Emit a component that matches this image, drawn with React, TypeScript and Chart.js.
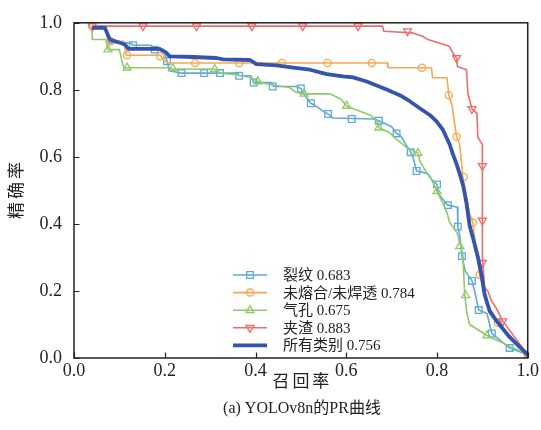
import React, { useEffect, useRef } from "react";
import { Chart, registerables } from "chart.js";

Chart.register(...registerables);

// ---------- data ----------
const xTicks = [0, 0.2, 0.4, 0.6, 0.8, 1.0];
const yTicks = [0, 0.2, 0.4, 0.6, 0.8, 1.0];

const classNames = ["裂纹", "未熔合/未焊透", "气孔", "夹渣", "所有类别"];
const classAP = ["0.683", "0.784", "0.675", "0.883", "0.756"];

// 裂纹 (crack)
const crackR = [0.04, 0.07, 0.075, 0.125, 0.13, 0.17, 0.175, 0.198, 0.205, 0.21, 0.235, 0.36, 0.364, 0.39, 0.396, 0.435, 0.44, 0.49, 0.5, 0.505, 0.522, 0.535, 0.55, 0.56, 0.57, 0.66, 0.672, 0.7, 0.711, 0.722, 0.73, 0.742, 0.747, 0.755, 0.78, 0.79, 0.8, 0.803, 0.824, 0.845, 0.846, 0.85, 0.855, 0.862, 0.877, 0.883, 0.892, 0.91, 0.921, 0.96, 1.0];
const crackP = [0.99, 0.99, 0.94, 0.94, 0.933, 0.933, 0.92, 0.92, 0.886, 0.857, 0.85, 0.85, 0.842, 0.842, 0.822, 0.822, 0.81, 0.81, 0.804, 0.79, 0.76, 0.75, 0.735, 0.728, 0.716, 0.713, 0.708, 0.69, 0.67, 0.66, 0.64, 0.614, 0.6, 0.558, 0.55, 0.53, 0.518, 0.49, 0.456, 0.45, 0.392, 0.365, 0.304, 0.26, 0.23, 0.2, 0.143, 0.133, 0.073, 0.03, 0.01];
const crackMarkR = [0.13, 0.178, 0.205, 0.237, 0.287, 0.322, 0.364, 0.396, 0.438, 0.5, 0.522, 0.56, 0.612, 0.672, 0.711, 0.742, 0.755, 0.8, 0.824, 0.846, 0.855, 0.877, 0.892, 0.921, 0.96, 1.0];
const crackMarkP = [0.933, 0.92, 0.886, 0.85, 0.85, 0.85, 0.842, 0.822, 0.81, 0.804, 0.76, 0.728, 0.713, 0.708, 0.67, 0.614, 0.558, 0.518, 0.456, 0.392, 0.304, 0.23, 0.143, 0.073, 0.03, 0.01];

// 未熔合/未焊透 (lack of fusion / penetration)
const lackR = [0.04, 0.07, 0.075, 0.11, 0.115, 0.19, 0.2, 0.21, 0.69, 0.692, 0.788, 0.79, 0.822, 0.826, 0.833, 0.843, 0.85, 0.857, 0.865, 0.872, 0.879, 0.885, 0.894, 0.905, 0.915, 0.925, 0.934, 1.0];
const lackP = [0.99, 0.99, 0.945, 0.945, 0.903, 0.903, 0.886, 0.88, 0.88, 0.866, 0.866, 0.836, 0.836, 0.784, 0.755, 0.66, 0.637, 0.54, 0.48, 0.43, 0.404, 0.33, 0.248, 0.2, 0.15, 0.13, 0.105, 0.01];
const lackMarkR = [0.04, 0.081, 0.117, 0.19, 0.267, 0.364, 0.458, 0.559, 0.656, 0.767, 0.826, 0.843, 0.859, 0.879, 0.894, 0.934, 1.0];
const lackMarkP = [0.99, 0.945, 0.903, 0.9, 0.88, 0.88, 0.88, 0.88, 0.88, 0.866, 0.784, 0.66, 0.54, 0.404, 0.248, 0.105, 0.01];

// 气孔 (pore)
const poreR = [0.04, 0.04, 0.07, 0.075, 0.1, 0.105, 0.11, 0.21, 0.215, 0.31, 0.32, 0.36, 0.39, 0.405, 0.43, 0.475, 0.49, 0.507, 0.564, 0.58, 0.59, 0.601, 0.623, 0.652, 0.667, 0.672, 0.696, 0.711, 0.733, 0.758, 0.762, 0.778, 0.789, 0.8, 0.813, 0.822, 0.828, 0.844, 0.85, 0.857, 0.861, 0.866, 0.872, 0.91, 1.0];
const poreP = [0.99, 0.95, 0.95, 0.92, 0.92, 0.89, 0.866, 0.866, 0.862, 0.862, 0.85, 0.845, 0.836, 0.825, 0.816, 0.807, 0.792, 0.788, 0.788, 0.778, 0.77, 0.752, 0.74, 0.725, 0.71, 0.687, 0.672, 0.652, 0.628, 0.611, 0.588, 0.55, 0.53, 0.497, 0.462, 0.433, 0.404, 0.374, 0.345, 0.307, 0.19, 0.132, 0.1, 0.067, 0.01];
const poreMarkR = [0.075, 0.117, 0.218, 0.31, 0.405, 0.507, 0.601, 0.672, 0.758, 0.8, 0.85, 0.863, 0.91];
const poreMarkP = [0.92, 0.866, 0.864, 0.862, 0.825, 0.788, 0.752, 0.687, 0.611, 0.497, 0.333, 0.187, 0.067];

// 夹渣 (slag)
const slagR = [0.04, 0.68, 0.683, 0.745, 0.768, 0.78, 0.805, 0.827, 0.835, 0.843, 0.845, 0.865, 0.868, 0.877, 0.888, 0.89, 0.9, 0.9, 0.905, 0.912, 0.92, 0.93, 0.945, 1.0];
const slagP = [0.99, 0.99, 0.975, 0.97, 0.96, 0.95, 0.94, 0.93, 0.91, 0.895, 0.87, 0.86, 0.79, 0.743, 0.73, 0.658, 0.637, 0.3, 0.21, 0.2, 0.17, 0.15, 0.11, 0.01];
const slagMarkR = [0.04, 0.152, 0.27, 0.392, 0.504, 0.626, 0.735, 0.843, 0.877, 0.9, 0.9, 0.9, 0.945, 1.0];
const slagMarkP = [0.99, 0.99, 0.99, 0.99, 0.99, 0.99, 0.975, 0.895, 0.743, 0.573, 0.41, 0.284, 0.11, 0.01];

// 所有类别 (all classes)
const allR = [0.04, 0.068, 0.079, 0.098, 0.112, 0.12, 0.189, 0.204, 0.211, 0.263, 0.314, 0.329, 0.388, 0.402, 0.446, 0.483, 0.52, 0.557, 0.593, 0.615, 0.645, 0.667, 0.689, 0.718, 0.74, 0.762, 0.784, 0.799, 0.813, 0.821, 0.828, 0.835, 0.843, 0.85, 0.858, 0.865, 0.872, 0.88, 0.891, 0.898, 0.905, 0.916, 0.931, 0.957, 0.982, 1.0];
const allP = [0.985, 0.985, 0.95, 0.942, 0.935, 0.922, 0.922, 0.91, 0.9, 0.898, 0.895, 0.891, 0.889, 0.877, 0.873, 0.866, 0.86, 0.847, 0.84, 0.837, 0.825, 0.813, 0.801, 0.784, 0.766, 0.745, 0.725, 0.706, 0.681, 0.657, 0.637, 0.608, 0.579, 0.55, 0.512, 0.462, 0.394, 0.355, 0.296, 0.248, 0.189, 0.14, 0.111, 0.067, 0.033, 0.01];

// ---------- styles ----------
const colors = ["#5ea9da", "#f8a64f", "#8fc96b", "#ed6c6c", "#3454ad"];
const markerKinds = ["square", "circle", "triUp", "triDown", "none"];
const SERIF = "'Liberation Serif', 'Times New Roman', 'Noto Sans CJK SC', serif";

Chart.defaults.font.family = SERIF;

const zip = (r: number[], p: number[]) => r.map((v, i) => ({ x: v, y: p[i] }));

function drawMarker(ctx: CanvasRenderingContext2D, kind: string, x: number, y: number) {
  ctx.beginPath();
  if (kind === "square") {
    ctx.rect(x - 3.3, y - 3.3, 6.6, 6.6);
  } else if (kind === "circle") {
    ctx.arc(x, y, 3.6, 0, Math.PI * 2);
  } else if (kind === "triUp") {
    const r = 4.6;
    ctx.moveTo(x, y - r);
    ctx.lineTo(x + r * 0.866, y + r * 0.5);
    ctx.lineTo(x - r * 0.866, y + r * 0.5);
    ctx.closePath();
  } else if (kind === "triDown") {
    const r = 4.6;
    ctx.moveTo(x, y + r);
    ctx.lineTo(x + r * 0.866, y - r * 0.5);
    ctx.lineTo(x - r * 0.866, y - r * 0.5);
    ctx.closePath();
  }
  ctx.stroke();
}

function spacedText(ctx: CanvasRenderingContext2D, text: string, cx: number, cy: number, gap: number) {
  const chars = Array.from(text);
  const widths = chars.map((c) => ctx.measureText(c).width);
  const total = widths.reduce((a, b) => a + b, 0) + gap * (chars.length - 1);
  let x = cx - total / 2;
  ctx.textAlign = "left";
  chars.forEach((c, i) => {
    ctx.fillText(c, x, cy);
    x += widths[i] + gap;
  });
}

const decorPlugin = {
  id: "decor",
  afterDraw(chart: any) {
    const ctx: CanvasRenderingContext2D = chart.ctx;
    const { left, right, top, bottom } = chart.chartArea;
    const xs = chart.scales.x;
    const ys = chart.scales.y;
    ctx.save();

    // inward ticks
    ctx.strokeStyle = "#222";
    ctx.lineWidth = 1.2;
    ctx.beginPath();
    xTicks.forEach((v) => {
      const px = Math.round(xs.getPixelForValue(v)) + 0.5;
      ctx.moveTo(px, bottom);
      ctx.lineTo(px, bottom - 5.5);
    });
    yTicks.forEach((v) => {
      const py = Math.round(ys.getPixelForValue(v)) + 0.5;
      ctx.moveTo(left, py);
      ctx.lineTo(left + 5.5, py);
    });
    ctx.stroke();

    // frame
    ctx.lineWidth = 1.5;
    ctx.strokeStyle = "#222";
    ctx.strokeRect(left, top, right - left, bottom - top);

    // axis titles
    ctx.fillStyle = "#222";
    ctx.textBaseline = "middle";
    ctx.font = `17px ${SERIF}`;
    spacedText(ctx, "召回率", (left + right) / 2, 383, 3);
    ctx.save();
    ctx.translate(18, (top + bottom) / 2);
    ctx.rotate(-Math.PI / 2);
    spacedText(ctx, "精确率", 0, 0, 3);
    ctx.restore();

    // caption
    ctx.font = `16px ${SERIF}`;
    ctx.textAlign = "center";
    ctx.fillText("(a) YOLOv8n的PR曲线", 302, 409);

    // legend
    ctx.font = `15px ${SERIF}`;
    ctx.textAlign = "left";
    classNames.forEach((name, i) => {
      const y = 275 + i * 17.6;
      ctx.strokeStyle = colors[i];
      ctx.lineWidth = i === 4 ? 3.8 : 1.6;
      ctx.beginPath();
      ctx.moveTo(233, y);
      ctx.lineTo(267, y);
      ctx.stroke();
      ctx.lineWidth = 1.3;
      drawMarker(ctx, markerKinds[i], 250, y);
      ctx.fillStyle = "#222";
      ctx.fillText(`${name} ${classAP[i]}`, 283, y + 1);
    });

    ctx.restore();
  },
};

export default function App() {
  const ref = useRef<HTMLCanvasElement | null>(null);

  useEffect(() => {
    if (!ref.current) return;
    const lineDs = (data: any[], color: string, width: number) => ({
      type: "line" as const,
      data,
      borderColor: color,
      backgroundColor: color,
      borderWidth: width,
      borderJoinStyle: "round" as const,
      pointRadius: 0,
      tension: 0,
      fill: false,
    });
    const markDs = (data: any[], color: string, style: string, radius: number, rotation = 0) => ({
      type: "line" as const,
      data,
      showLine: false,
      borderColor: color,
      backgroundColor: "rgba(0,0,0,0)",
      pointStyle: style,
      pointRadius: radius,
      pointRotation: rotation,
      pointBorderWidth: 1.3,
      pointBorderColor: color,
      pointBackgroundColor: "rgba(0,0,0,0)",
    });

    const chart = new Chart(ref.current, {
      type: "line",
      data: {
        datasets: [
          lineDs(zip(allR, allP), colors[4], 3.8),
          markDs(zip(slagMarkR, slagMarkP), colors[3], "triangle", 4.6, 180),
          lineDs(zip(slagR, slagP), colors[3], 1.6),
          markDs(zip(lackMarkR, lackMarkP), colors[1], "circle", 3.6),
          lineDs(zip(lackR, lackP), colors[1], 1.6),
          markDs(zip(poreMarkR, poreMarkP), colors[2], "triangle", 4.6),
          lineDs(zip(poreR, poreP), colors[2], 1.6),
          markDs(zip(crackMarkR, crackMarkP), colors[0], "rect", 4.7),
          lineDs(zip(crackR, crackP), colors[0], 1.6),
        ] as any,
      },
      options: {
        responsive: false,
        animation: false,
        layout: { padding: { left: 0, top: 16, right: 13, bottom: 0 } },
        plugins: {
          legend: { display: false },
          tooltip: { enabled: false },
          title: { display: false },
        },
        scales: {
          x: {
            type: "linear",
            min: 0,
            max: 1,
            afterBuildTicks: (s: any) => {
              s.ticks = xTicks.map((v) => ({ value: v }));
            },
            ticks: {
              callback: (v: any) => Number(v).toFixed(1),
              font: { family: SERIF, size: 18 },
              color: "#222",
              padding: 2,
              maxRotation: 0,
              autoSkip: false,
            },
            grid: { display: false, drawTicks: false },
            border: { display: false },
            afterFit: (s: any) => {
              s.height = 72;
            },
          },
          y: {
            type: "linear",
            min: 0,
            max: 1,
            afterBuildTicks: (s: any) => {
              s.ticks = yTicks.map((v) => ({ value: v }));
            },
            ticks: {
              callback: (v: any) => Number(v).toFixed(1),
              font: { family: SERIF, size: 18 },
              color: "#222",
              padding: 12,
              autoSkip: false,
            },
            grid: { display: false, drawTicks: false },
            border: { display: false },
            afterFit: (s: any) => {
              s.width = 74;
            },
          },
        },
      },
      plugins: [decorPlugin],
    });
    return () => chart.destroy();
  }, []);

  return (
    <div style={{ position: "absolute", left: 0, top: 0, width: 541, height: 430, background: "#fff" }}>
      <canvas ref={ref} width={541} height={430} />
    </div>
  );
}
